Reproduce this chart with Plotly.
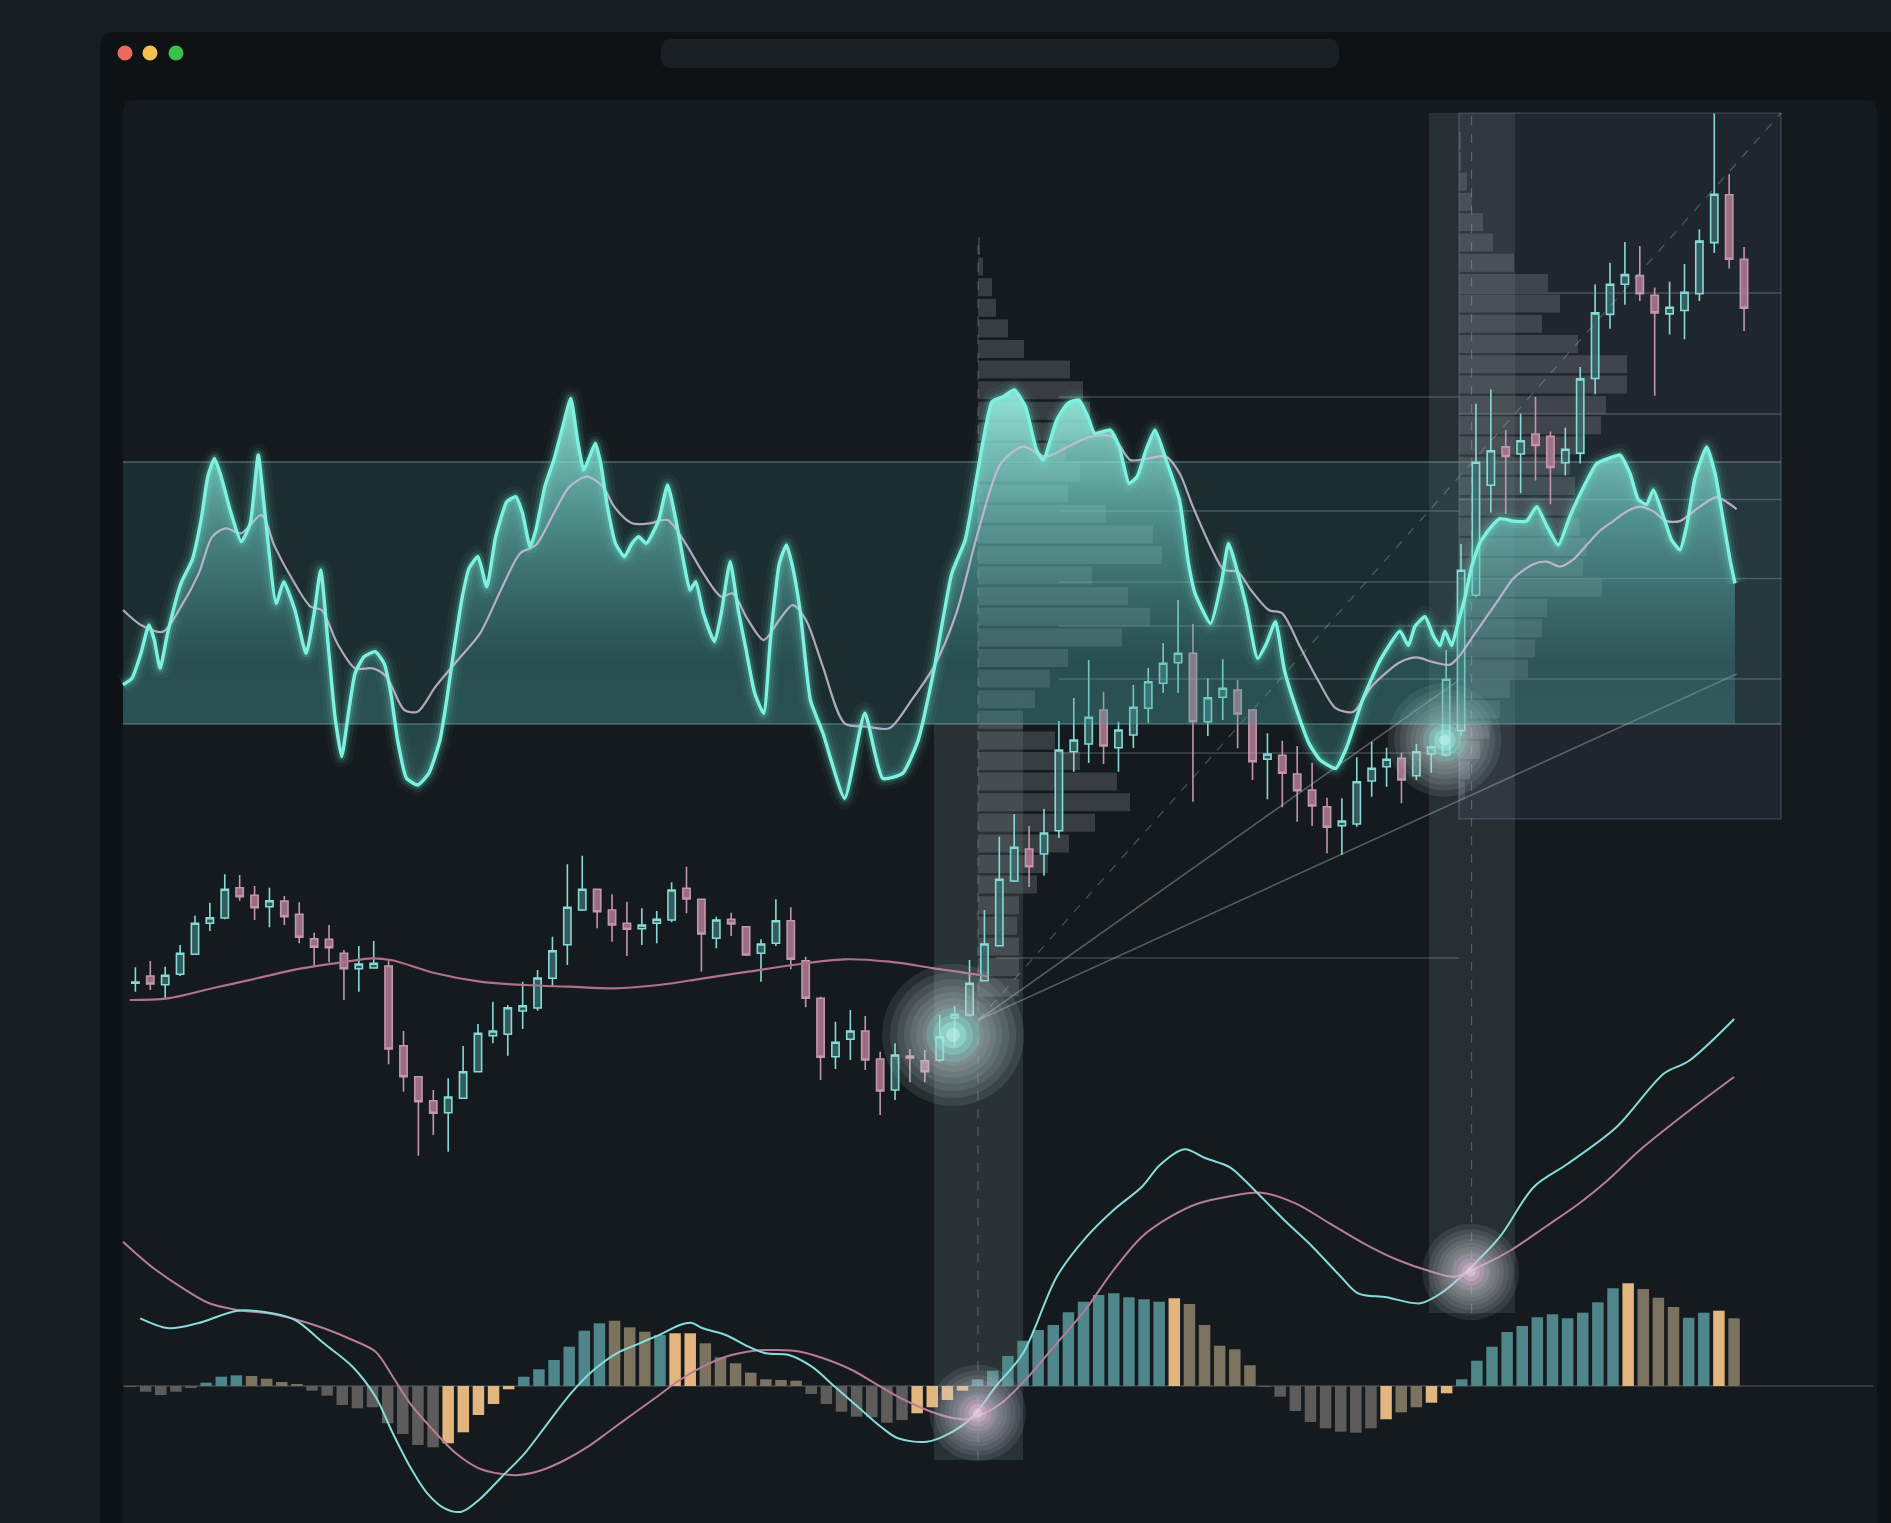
import plotly.graph_objects as go

W, H = 1891, 1523

# ---------------- DATA ----------------
# Candles (bar index 0..108), prices
candle_open = [101.67, 102.4, 101.53, 102.57, 104.57, 107.67, 108.2, 111.23, 110.47, 109.33,
               109.9, 108.57, 106.13, 106.07, 104.67, 103.13, 103.2, 103.4, 95.43, 92.33,
               89.93, 88.73, 90.17, 92.83, 96.43, 96.57, 98.9, 99.2, 102.17, 105.53,
               109.0, 111.07, 109.0, 107.67, 107.13, 107.67, 108.0, 111.17, 110.07, 106.17,
               108.07, 107.33, 104.67, 105.67, 107.93, 103.93, 100.17, 94.33, 96.07, 96.9,
               94.1, 91.0, 94.4, 93.93, 94.0, 98.23, 98.5, 101.93, 105.43, 111.9,
               115.1, 114.6, 116.93, 124.83, 125.6, 129.0, 125.23, 126.5, 129.17, 131.67,
               133.73, 134.67, 127.83, 130.27, 131.0, 129.0, 124.07, 124.47, 122.6, 121.0,
               119.33, 117.43, 117.6, 121.9, 123.33, 124.17, 122.43, 124.6, 124.5, 126.94,
               140.48, 151.48, 155.31, 154.6, 156.6, 156.36, 153.73, 154.69, 162.15, 168.56,
               171.58, 172.44, 170.48, 168.61, 168.95, 170.62, 175.74, 180.53, 174.07]
candle_high = [103.27, 103.9, 103.33, 105.5, 108.43, 109.73, 112.57, 112.5, 111.4, 111.23,
               110.4, 109.77, 106.73, 107.5, 105.0, 105.4, 105.9, 104.0, 96.9, 92.4,
               91.0, 92.17, 95.4, 97.6, 99.83, 99.5, 101.83, 103.0, 106.33, 113.57,
               114.43, 111.1, 110.57, 109.83, 109.17, 108.9, 111.77, 113.33, 110.1, 108.33,
               108.73, 107.4, 106.07, 110.07, 109.27, 104.33, 100.33, 97.83, 99.0, 98.4,
               94.83, 95.67, 95.1, 95.0, 98.5, 99.4, 104.0, 109.0, 116.33, 118.6,
               117.4, 119.1, 127.9, 130.2, 134.0, 130.83, 127.83, 131.5, 133.2, 135.7,
               140.0, 137.6, 132.17, 134.07, 132.0, 129.07, 126.67, 125.93, 125.4, 123.73,
               120.23, 120.17, 124.27, 125.83, 125.23, 124.73, 125.6, 125.43, 135.0, 145.6,
               159.62, 161.05, 157.0, 158.66, 160.33, 156.84, 157.22, 163.3, 171.58, 173.73,
               175.79, 175.41, 171.24, 171.82, 173.59, 177.08, 188.66, 182.58, 175.31]
candle_low = [100.83, 101.0, 100.07, 102.4, 104.5, 106.9, 108.07, 109.93, 108.0, 107.27,
              107.5, 105.67, 103.33, 103.77, 100.0, 100.83, 103.17, 93.57, 90.83, 84.43,
              86.5, 84.83, 90.1, 92.8, 95.67, 94.43, 97.1, 98.93, 101.33, 103.5,
              108.9, 107.17, 105.83, 104.4, 105.5, 105.67, 107.77, 108.67, 102.83, 105.17,
              106.4, 104.4, 101.83, 105.4, 103.07, 99.27, 92.0, 93.1, 94.0, 93.0,
              88.5, 90.0, 91.77, 91.77, 93.8, 95.33, 98.33, 101.9, 105.4, 111.8,
              111.3, 112.43, 116.2, 122.83, 123.7, 123.6, 122.83, 125.2, 127.73, 130.7,
              130.7, 119.83, 126.4, 128.0, 125.17, 122.0, 120.07, 119.27, 117.83, 117.4,
              114.67, 114.5, 117.33, 120.33, 121.33, 119.67, 122.0, 122.73, 124.33, 126.4,
              140.24, 148.76, 148.61, 150.67, 151.96, 149.57, 152.44, 153.64, 160.57, 167.13,
              169.52, 169.9, 160.43, 166.56, 166.08, 169.9, 174.69, 173.16, 166.89]
candle_close = [101.8, 101.6, 102.47, 104.67, 107.67, 108.23, 111.07, 110.33, 109.23, 109.93,
                108.33, 106.27, 105.27, 105.23, 103.13, 103.6, 103.67, 95.1, 92.33, 89.83,
                88.67, 90.3, 92.83, 96.67, 96.9, 99.23, 99.43, 102.2, 104.93, 109.27,
                111.07, 108.83, 107.5, 107.07, 107.5, 108.07, 111.0, 110.1, 106.6, 108.0,
                107.6, 104.5, 105.6, 107.93, 104.07, 100.17, 94.27, 95.77, 96.9, 94.0,
                90.9, 94.5, 94.2, 92.83, 96.33, 98.57, 101.67, 105.6, 112.07, 115.27,
                113.33, 116.7, 125.0, 126.0, 128.27, 125.4, 127.0, 129.27, 131.83, 133.67,
                134.67, 127.83, 130.23, 131.17, 128.6, 123.83, 124.6, 122.67, 120.93, 119.4,
                117.27, 117.9, 121.83, 123.17, 124.07, 122.0, 124.83, 125.33, 132.07, 142.97,
                153.78, 154.93, 154.35, 155.93, 155.45, 153.25, 155.07, 162.11, 168.71, 171.58,
                172.54, 170.62, 168.71, 169.28, 170.77, 175.89, 180.57, 174.07, 169.19]
candle_idx = list(range(len(candle_open)))

# Moving average over the price candles
ma_idx = [-0.38, 2.16, 5.16, 8.16, 11.16, 14.15, 15.86, 17.15, 20.15, 23.14, 26.14,
          29.14, 32.14, 35.13, 38.13, 41.13, 44.12, 47.61, 50.61, 53.61, 56.61, 57.21]
ma_val = [100.0, 100.17, 101.17, 102.17, 103.17, 103.83, 104.17, 104.0, 102.67, 101.83, 101.5,
          101.33, 101.17, 101.5, 102.17, 102.83, 103.5, 104.07, 103.83, 103.17, 102.5, 102.33]

# Oscillator (band = -1 .. +1)
osc_idx = [-0.83, -0.23, 0.37, 0.91, 1.27, 1.66, 2.16, 3.06, 3.81, 4.41, 4.86, 5.31, 5.76, 6.36,
           7.11, 7.71, 8.25, 8.70, 9.45, 9.96, 10.71, 11.46, 12.0, 12.44, 12.95, 13.40, 13.85,
           14.30, 14.75, 15.35, 16.10, 16.70, 17.15, 17.60, 18.20, 18.95, 19.70, 20.45, 20.90,
           21.35, 21.95, 22.40, 23.00, 23.59, 24.19, 24.94, 25.54, 25.99, 26.50, 26.89, 27.49,
           28.09, 28.69, 29.23, 29.68, 30.10, 30.49, 30.88, 31.24, 31.69, 32.23, 32.83, 33.34,
           33.79, 34.30, 35.13, 35.73, 36.33, 36.87, 37.23, 37.62, 38.13, 38.88, 39.33, 39.93,
           40.47, 40.98, 41.58, 42.18, 42.63, 43.23, 43.71, 44.12, 44.62, 45.32, 46.16, 47.62,
           48.97, 50.17, 51.51, 52.56, 53.61, 54.81, 55.71, 56.61, 57.51, 58.26, 59.01, 59.76,
           60.50, 60.95, 61.85, 62.60, 63.35, 63.95, 64.40, 65.45, 66.05, 66.71, 67.25, 67.85,
           68.45, 69.20, 70.10, 70.70, 71.14, 72.19, 72.94, 73.39, 74.14, 74.59, 75.34, 75.94,
           76.54, 77.14, 77.89, 78.79, 79.54, 80.59, 81.34, 82.38, 83.58, 84.90, 85.46, 85.91,
           86.58, 87.14, 87.59, 87.92, 88.37, 88.82, 89.26, 89.71, 90.27, 90.94, 91.61, 92.51,
           93.40, 94.08, 94.75, 95.53, 96.31, 97.21, 98.10, 99.00, 99.67, 100.34, 100.90,
           101.46, 101.91, 102.58, 103.14, 103.70, 104.15, 104.71, 105.49, 106.05, 106.61,
           107.05, 107.39]
osc_val = [-0.70, -0.651, -0.461, -0.244, -0.359, -0.575, -0.308, 0.074, 0.252, 0.557, 0.888,
           1.028, 0.888, 0.634, 0.392, 0.532, 1.053, 0.608, -0.079, 0.087, -0.130, -0.461,
           -0.155, 0.176, -0.410, -0.944, -1.249, -0.918, -0.613, -0.486, -0.448, -0.537,
           -0.766, -1.122, -1.415, -1.466, -1.377, -1.122, -0.817, -0.461, -0.028, 0.188,
           0.277, 0.048, 0.430, 0.697, 0.735, 0.608, 0.354, 0.481, 0.812, 1.015, 1.270, 1.486,
           1.168, 0.939, 1.041, 1.143, 0.990, 0.659, 0.379, 0.277, 0.379, 0.430, 0.379, 0.557,
           0.824, 0.532, 0.201, 0.023, 0.087, -0.155, -0.371, -0.155, 0.239, -0.130, -0.422,
           -0.766, -0.918, -0.359, 0.226, 0.366, 0.201, -0.130, -0.817, -1.071, -1.567,
           -0.918, -1.415, -1.377, -1.122, -0.588, 0.150, 0.405, 0.964, 1.461, 1.499, 1.550,
           1.422, 1.092, 1.015, 1.321, 1.448, 1.473, 1.346, 1.219, 1.244, 1.117, 0.837, 0.888,
           1.092, 1.244, 1.015, 0.710, 0.226, -0.003, -0.232, 0.099, 0.379, 0.099, -0.104,
           -0.499, -0.384, -0.219, -0.588, -0.868, -1.148, -1.275, -1.338, -1.173, -0.817,
           -0.511, -0.291, -0.401, -0.254, -0.181, -0.327, -0.401, -0.291, -0.401, -0.218,
           -0.035, 0.202, 0.385, 0.494, 0.567, 0.549, 0.549, 0.659, 0.513, 0.366, 0.586,
           0.805, 0.987, 1.031, 1.053, 0.914, 0.713, 0.677, 0.786, 0.586, 0.403, 0.330, 0.513,
           0.878, 1.115, 0.914, 0.549, 0.257, 0.074]

osc_ma_idx = [-0.83, 0.37, 1.86, 3.06, 4.26, 5.16, 6.06, 7.11, 8.46, 9.36, 10.56, 11.76, 12.50,
              13.55, 14.75, 15.95, 16.85, 18.05, 18.95, 20.15, 21.65, 23.14, 24.64, 25.84,
              26.89, 28.09, 29.14, 30.34, 31.39, 32.14, 33.34, 34.54, 35.73, 36.93, 38.13,
              39.33, 40.08, 41.13, 42.18, 43.23, 44.12, 45.02, 46.12, 47.62, 49.12, 50.61,
              52.11, 53.61, 55.11, 56.61, 58.11, 59.61, 61.10, 62.60, 64.10, 65.60, 66.80,
              68.0, 69.20, 70.10, 71.0, 72.19, 73.09, 73.99, 74.89, 76.09, 76.99, 78.19, 79.39,
              80.59, 81.78, 82.98, 84.18, 84.90, 86.02, 87.14, 88.26, 88.93, 89.82, 90.72,
              91.61, 92.51, 93.85, 94.75, 95.64, 96.54, 97.43, 98.33, 99.22, 100.12, 101.01,
              101.91, 102.80, 103.70, 104.59, 105.49, 106.16, 106.83, 107.50]
osc_ma_val = [-0.130, -0.244, -0.295, -0.104, 0.150, 0.430, 0.494, 0.456, 0.595, 0.354, 0.099,
              -0.104, -0.130, -0.384, -0.575, -0.575, -0.639, -0.893, -0.906, -0.715, -0.511,
              -0.308, 0.048, 0.303, 0.366, 0.608, 0.812, 0.888, 0.812, 0.659, 0.532, 0.532,
              0.557, 0.379, 0.150, -0.028, -0.003, -0.206, -0.359, -0.206, -0.092, -0.206,
              -0.55, -0.995, -1.020, -1.033, -0.817, -0.562, -0.155, 0.481, 0.990, 1.117,
              1.041, 1.117, 1.193, 1.193, 1.015, 1.028, 1.041, 0.914, 0.659, 0.354, 0.176,
              0.163, 0.023, -0.130, -0.155, -0.410, -0.664, -0.880, -0.906, -0.715, -0.588,
              -0.528, -0.492, -0.528, -0.547, -0.474, -0.327, -0.181, -0.035, 0.111, 0.220,
              0.239, 0.202, 0.257, 0.366, 0.476, 0.549, 0.622, 0.659, 0.622, 0.549, 0.549,
              0.622, 0.695, 0.732, 0.695, 0.641]

# Volume profiles (price bins and volumes)
profile1_price = [175.4, 173.34, 171.28, 169.22, 167.16, 165.1, 163.04, 160.98, 158.92, 156.86,
                  154.8, 152.74, 150.68, 148.62, 146.56, 144.5, 142.44, 140.38, 138.32, 136.26,
                  134.2, 132.14, 130.08, 128.02, 125.96, 123.9, 121.84, 119.78, 117.72, 115.66,
                  113.6, 111.54, 109.48, 107.42, 105.36, 103.3, 101.24]
profile1_vol = [2, 5, 14, 18, 30, 46, 92, 105, 112, 112, 88, 102, 90, 128, 175, 184, 114, 150,
                172, 144, 90, 72, 57, 45, 77, 102, 139, 152, 117, 91, 70, 59, 41, 39, 41, 41, 41]
profile2_price = [185.9, 183.87, 181.84, 179.81, 177.78, 175.75, 173.72, 171.69, 169.66, 167.63,
                  165.6, 163.57, 161.54, 159.51, 157.48, 155.45, 153.42, 151.39, 149.36, 147.33,
                  145.3, 143.27, 141.24, 139.21, 137.18, 135.15, 133.12, 131.09, 129.06, 127.03,
                  125.0, 122.97, 120.94]
profile2_vol = [2, 2, 8, 13, 24, 34, 55, 89, 101, 83, 119, 168, 168, 147, 142, 126, 111, 116, 114,
                121, 128, 124, 143, 88, 83, 76, 69, 51, 41, 31, 21, 11, 6]

# Price levels
levels_mid = [160.3, 148.9, 141.8, 137.4, 132.1, 124.7]
levels_box = [170.7, 158.6, 150.05, 142.15, 132.1]
level_low = [104.2]

# MACD histogram (per bar) and category (t teal, b tan, o orange, g grey)
macd_hist = [-0.005, -0.057, -0.09, -0.057, -0.02, 0.033, 0.093, 0.107, 0.10, 0.073, 0.04, 0.017,
             -0.047, -0.097, -0.19, -0.223, -0.213, -0.373, -0.48, -0.59, -0.613, -0.573,
             -0.463, -0.29, -0.18, -0.033, 0.093, 0.167, 0.26, 0.393, 0.553, 0.627, 0.653,
             0.587, 0.543, 0.51, 0.527, 0.527, 0.427, 0.287, 0.227, 0.133, 0.067, 0.06, 0.053,
             -0.08, -0.18, -0.257, -0.307, -0.313, -0.367, -0.34, -0.273, -0.213, -0.14, -0.047,
             0.067, 0.153, 0.30, 0.453, 0.56, 0.61, 0.737, 0.843, 0.91, 0.927, 0.887, 0.867,
             0.843, 0.877, 0.82, 0.61, 0.403, 0.367, 0.207, -0.01, -0.107, -0.25, -0.36,
             -0.423, -0.457, -0.467, -0.423, -0.333, -0.263, -0.213, -0.167, -0.073, 0.067,
             0.253, 0.393, 0.54, 0.6, 0.687, 0.717, 0.677, 0.733, 0.837, 0.977, 1.027, 0.97,
             0.883, 0.79, 0.683, 0.733, 0.753, 0.677]
macd_cat = ("ggggg" "ttt" "bbbb" "ggggggggg" "ooooo" "tttttt" "bbb" "t" "oo" "bbbbbbb"
            "ggggggg" "oooo" "ttttttttttttt" "o" "bbbbb" "gggggggg" "o" "bb" "oo"
            "ttttttttttt" "o" "bbb" "tt" "o" "b")
macd_idx = list(range(len(macd_hist)))

macd_line_idx = [0.64, 2.54, 4.44, 7.09, 9.37, 10.89, 12.78, 14.68, 16.2, 17.34, 18.48, 19.62,
                 20.76, 21.89, 23.03, 24.55, 26.06, 27.58, 29.11, 30.62, 32.14, 33.65, 35.17,
                 36.31, 37.07, 37.83, 39.35, 40.86, 42.01, 43.52, 45.04, 46.56, 48.08, 49.6,
                 50.73, 52.63, 54.14, 55.67, 57.19, 59.0, 61.23, 63.11, 64.99, 66.86, 68.05,
                 69.66, 71.03, 72.68, 73.63, 76.26, 78.13, 80.01, 81.14, 83.02, 85.27, 86.77,
                 88.65, 90.53, 92.78, 95.01, 98.2, 101.39, 102.98, 106.01]
macd_line_val = [0.677, 0.577, 0.627, 0.753, 0.727, 0.66, 0.427, 0.193, -0.107, -0.473, -0.807,
                 -1.073, -1.223, -1.257, -1.14, -0.907, -0.673, -0.373, -0.073, 0.16, 0.327,
                 0.427, 0.527, 0.61, 0.633, 0.577, 0.51, 0.393, 0.327, 0.31, 0.193, -0.007,
                 -0.207, -0.407, -0.523, -0.557, -0.473, -0.307, -0.007, 0.327, 1.093, 1.477,
                 1.76, 1.993, 2.21, 2.367, 2.28, 2.186, 2.06, 1.66, 1.393, 1.093, 0.927, 0.887,
                 0.827, 0.943, 1.193, 1.493, 1.993, 2.222, 2.584, 3.127, 3.247, 3.67]
signal_idx = [-0.5, 1.4, 3.3, 5.2, 7.09, 9.37, 10.89, 12.78, 14.68, 16.2, 17.34, 18.48, 20.0,
              21.51, 23.03, 24.55, 25.69, 27.21, 28.72, 30.24, 31.76, 33.28, 34.8, 36.31, 37.83,
              39.35, 41.25, 42.76, 44.28, 45.8, 47.69, 49.21, 50.73, 52.63, 54.14, 55.29, 56.43,
              57.56, 59.35, 61.23, 63.11, 64.99, 66.86, 68.75, 70.62, 72.5, 74.76, 77.01, 79.26,
              81.51, 83.77, 86.02, 87.52, 89.4, 91.28, 93.54, 95.78, 97.67, 99.78, 103.09, 106.0]
signal_val = [1.443, 1.193, 0.993, 0.827, 0.76, 0.72, 0.667, 0.577, 0.46, 0.343, 0.093, -0.173,
              -0.44, -0.673, -0.823, -0.88, -0.89, -0.84, -0.74, -0.607, -0.44, -0.273, -0.107,
              0.06, 0.193, 0.293, 0.353, 0.36, 0.343, 0.277, 0.16, 0.027, -0.107, -0.24, -0.313,
              -0.333, -0.273, -0.173, 0.093, 0.427, 0.76, 1.16, 1.493, 1.693, 1.827, 1.893,
              1.933, 1.827, 1.627, 1.427, 1.26, 1.143, 1.093, 1.21, 1.36, 1.593, 1.827, 2.06,
              2.36, 2.76, 3.09]

# Highlight points
glow_idx = [54.9, 87.9]
glow_price = [96.5, 126.0]
macd_glow_idx = [56.0, 88.6]
macd_glow_val = [-0.27, 1.14]

# Fan lines from the breakout point
fan_origin = (56.6, 98.0)
fan_solid_idx = [107.5, 88.86]
fan_solid_price = [132.6, 132.0]
fan_dash_end = (110.48, 188.7)

# ---------------- STYLE ----------------
BG_PAGE = "#161c1f"
BG_WINDOW = "#0e1215"
BG_PANEL = "#141a1d"
CYAN = "#7ef2df"
LAV = "rgba(205,188,218,0.85)"
UP_LINE, UP_FILL = "#86dbd4", "rgba(62,112,114,0.75)"
DN_LINE, DN_FILL = "#c396aa", "rgba(168,120,142,0.9)"
CAT_COLORS = {"t": "#4e8689", "b": "#7b735f", "o": "#e2b67e", "g": "#5e5c5a"}


def px(x):
    return x / W


def py(y):
    return 1 - y / H


def rrect(x0, y0, x1, y1, r):
    return (f"M {px(x0 + r)},{py(y0)} L {px(x1 - r)},{py(y0)} "
            f"Q {px(x1)},{py(y0)} {px(x1)},{py(y0 + r)} L {px(x1)},{py(y1 - r)} "
            f"Q {px(x1)},{py(y1)} {px(x1 - r)},{py(y1)} L {px(x0 + r)},{py(y1)} "
            f"Q {px(x0)},{py(y1)} {px(x0)},{py(y1 - r)} L {px(x0)},{py(y0 + r)} "
            f"Q {px(x0)},{py(y0)} {px(x0 + r)},{py(y0)} Z")


shapes = []
# window chrome
shapes.append(dict(type="path", path=rrect(100, 32, 1960, 1620, 16), xref="paper", yref="paper",
                   fillcolor=BG_WINDOW, line_width=0, layer="below"))
shapes.append(dict(type="path", path=rrect(123, 100, 1877, 1620, 12), xref="paper", yref="paper",
                   fillcolor=BG_PANEL, line_width=0, layer="below"))
shapes.append(dict(type="path", path=rrect(661, 39, 1339, 68, 10), xref="paper", yref="paper",
                   fillcolor="#1a1f23", line_width=0, layer="below"))
for cx, col in [(125, "#ec6a5c"), (150, "#f3bf4f"), (176, "#3cbf4b")]:
    shapes.append(dict(type="circle", xref="paper", yref="paper", xsizemode="pixel",
                       ysizemode="pixel", xanchor=px(cx), yanchor=py(53), x0=-7.5, x1=7.5,
                       y0=-7.5, y1=7.5, fillcolor=col, line_width=0, layer="below"))

# right box
shapes.append(dict(type="rect", xref="x", yref="y", x0=88.86, x1=110.48, y0=118.1, y1=188.7,
                   fillcolor="rgba(58,64,80,0.33)", line=dict(color="rgba(150,160,170,0.35)", width=1.2),
                   layer="below"))
# highlight columns
shapes.append(dict(type="rect", xref="x", yref="y", x0=53.61, x1=59.59, y0=54.0, y1=127.7,
                   fillcolor="rgba(150,180,180,0.17)", line_width=0, layer="below"))
shapes.append(dict(type="rect", xref="x", yref="y", x0=86.85, x1=92.62, y0=68.7, y1=188.7,
                   fillcolor="rgba(150,180,180,0.14)", line_width=0, layer="below"))
# oscillator band
shapes.append(dict(type="rect", xref="x", yref="y2", x0=-0.83, x1=110.48, y0=-1, y1=1,
                   fillcolor="rgba(70,140,145,0.17)", line_width=0, layer="below"))
for yb in (-1, 1):
    shapes.append(dict(type="line", xref="x", yref="y2", x0=-0.83, x1=110.48, y0=yb, y1=yb,
                       line=dict(color="rgba(130,180,185,0.45)", width=1.5), layer="below"))
# dashed verticals
shapes.append(dict(type="line", xref="x", yref="y", x0=56.57, x1=56.57, y0=54.0, y1=176.4,
                   line=dict(color="rgba(190,200,200,0.35)", width=1, dash="dash")))
shapes.append(dict(type="line", xref="x", yref="y", x0=89.71, x1=89.71, y0=68.7, y1=188.7,
                   line=dict(color="rgba(190,200,200,0.35)", width=1, dash="dash")))
# MACD zero line
shapes.append(dict(type="line", xref="x2", yref="y3", x0=-0.5, x1=115.2, y0=0, y1=0,
                   line=dict(color="rgba(110,115,118,0.5)", width=1.5), layer="below"))

fig = go.Figure()

# ---- volume profiles ----
BARS_PER_VOL = 1 / 14.895
fig.add_trace(go.Bar(orientation="h", y=profile1_price, x=[v * BARS_PER_VOL for v in profile1_vol],
                     base=56.57, width=1.8, marker=dict(color="rgba(118,124,130,0.36)", line_width=0),
                     hoverinfo="skip", showlegend=False))
fig.add_trace(go.Bar(orientation="h", y=profile2_price, x=[v * BARS_PER_VOL for v in profile2_vol],
                     base=88.86, width=1.8, marker=dict(color="rgba(118,124,130,0.36)", line_width=0),
                     hoverinfo="skip", showlegend=False))

# ---- level lines ----
lx, ly = [], []
for p in levels_mid:
    lx += [62.0, 88.86, None]
    ly += [p, p, None]
for p in levels_box:
    lx += [88.86, 110.48, None]
    ly += [p, p, None]
for p in level_low:
    lx += [57.8, 88.86, None]
    ly += [p, p, None]
fig.add_trace(go.Scatter(x=lx, y=ly, mode="lines", line=dict(color="rgba(170,180,185,0.3)", width=1.5),
                         hoverinfo="skip", showlegend=False))

# ---- oscillator ----
fig.add_trace(go.Scatter(x=[osc_idx[0], osc_idx[-1]], y=[-1, -1], yaxis="y2", mode="lines",
                         line=dict(width=0, color="rgba(0,0,0,0)"), hoverinfo="skip", showlegend=False))
fig.add_trace(go.Scatter(x=osc_idx, y=osc_val, yaxis="y2", mode="lines", fill="tonexty",
                         line=dict(width=0, color="rgba(0,0,0,0)", shape="spline", smoothing=0.5),
                         fillgradient=dict(type="vertical", start=-1.6, stop=1.45,
                                           colorscale=[[0, "rgba(75,165,160,0.36)"],
                                                       [0.35, "rgba(70,155,152,0.30)"],
                                                       [0.7, "rgba(110,205,195,0.58)"],
                                                       [1, "rgba(155,242,228,0.88)"]]),
                         hoverinfo="skip", showlegend=False))
for w, a in [(22, 0.045), (14, 0.085), (8, 0.17)]:
    fig.add_trace(go.Scatter(x=osc_idx, y=osc_val, yaxis="y2", mode="lines",
                             line=dict(width=w, color=f"rgba(110,240,220,{a})", shape="spline",
                                       smoothing=0.5),
                             hoverinfo="skip", showlegend=False))
fig.add_trace(go.Scatter(x=osc_ma_idx, y=osc_ma_val, yaxis="y2", mode="lines",
                         line=dict(width=2.2, color=LAV, shape="spline", smoothing=0.8),
                         hoverinfo="skip", showlegend=False))
fig.add_trace(go.Scatter(x=osc_idx, y=osc_val, yaxis="y2", mode="lines",
                         line=dict(width=3.4, color=CYAN, shape="spline", smoothing=0.5),
                         hoverinfo="skip", showlegend=False))

# ---- fan lines ----
fx, fy = [], []
for xi, yi in zip(fan_solid_idx, fan_solid_price):
    fx += [fan_origin[0], xi, None]
    fy += [fan_origin[1], yi, None]
fig.add_trace(go.Scatter(x=fx, y=fy, mode="lines", line=dict(color="rgba(170,185,190,0.42)", width=1.6),
                         hoverinfo="skip", showlegend=False))
fig.add_trace(go.Scatter(x=[fan_origin[0], fan_dash_end[0]], y=[fan_origin[1], fan_dash_end[1]],
                         mode="lines", line=dict(color="rgba(170,185,190,0.35)", width=1.2, dash="dash"),
                         hoverinfo="skip", showlegend=False))

# ---- candles ----
fig.add_trace(go.Candlestick(x=candle_idx, open=candle_open, high=candle_high, low=candle_low,
                             close=candle_close, whiskerwidth=0,
                             increasing=dict(line=dict(color=UP_LINE, width=1.6), fillcolor=UP_FILL),
                             decreasing=dict(line=dict(color=DN_LINE, width=1.6), fillcolor=DN_FILL),
                             hoverinfo="skip", showlegend=False))
fig.add_trace(go.Scatter(x=ma_idx, y=ma_val, mode="lines",
                         line=dict(color="#b07189", width=2.2, shape="spline", smoothing=1.0),
                         hoverinfo="skip", showlegend=False))

# ---- MACD ----
fig.add_trace(go.Bar(x=macd_idx, y=macd_hist, xaxis="x2", yaxis="y3", width=0.76,
                     marker=dict(color=[CAT_COLORS[c] for c in macd_cat], line_width=0),
                     hoverinfo="skip", showlegend=False))
fig.add_trace(go.Scatter(x=signal_idx, y=signal_val, xaxis="x2", yaxis="y3", mode="lines",
                         line=dict(color="#b67c98", width=2, shape="spline", smoothing=0.9),
                         hoverinfo="skip", showlegend=False))
fig.add_trace(go.Scatter(x=macd_line_idx, y=macd_line_val, xaxis="x2", yaxis="y3", mode="lines",
                         line=dict(color="#86dcd9", width=2, shape="spline", smoothing=0.9),
                         hoverinfo="skip", showlegend=False))


# ---- glows ----
def add_glow(xs, ys, xaxis, yaxis, scale, ring_color, core):
    rings = [142, 126, 112, 98, 86, 74, 62]
    for s in rings:
        fig.add_trace(go.Scatter(x=xs, y=ys, xaxis=xaxis, yaxis=yaxis, mode="markers",
                                 marker=dict(size=[s * k for k in scale], color=ring_color,
                                             line_width=0),
                                 hoverinfo="skip", showlegend=False))
    for s, c in [(54, core[0]), (40, core[1]), (27, core[2]), (14, core[3])]:
        fig.add_trace(go.Scatter(x=xs, y=ys, xaxis=xaxis, yaxis=yaxis, mode="markers",
                                 marker=dict(size=[s * k for k in scale], color=c, line_width=0),
                                 hoverinfo="skip", showlegend=False))


add_glow(glow_idx, glow_price, "x", "y", [1.0, 0.8], "rgba(190,212,212,0.16)",
         ["rgba(120,230,215,0.32)", "rgba(140,245,230,0.40)", "rgba(170,255,240,0.48)",
          "rgba(215,255,250,0.55)"])
add_glow(macd_glow_idx, macd_glow_val, "x2", "y3", [0.68, 0.68], "rgba(210,205,215,0.15)",
         ["rgba(215,170,205,0.32)", "rgba(225,180,212,0.40)", "rgba(238,195,225,0.48)",
          "rgba(250,225,242,0.55)"])

fig.update_layout(
    width=W, height=H, margin=dict(l=0, r=0, t=0, b=0),
    paper_bgcolor=BG_PAGE, plot_bgcolor="rgba(0,0,0,0)",
    barmode="overlay", showlegend=False, shapes=shapes,
    xaxis=dict(range=[-9.090, 117.865], domain=[0, 1], visible=False, fixedrange=True,
               rangeslider=dict(visible=False)),
    yaxis=dict(range=[47.7, 200.0], domain=[0, 1], visible=False, fixedrange=True),
    yaxis2=dict(range=[-7.0992, 4.5267], overlaying="y", visible=False, fixedrange=True),
    xaxis2=dict(range=[-8.626, 116.376], overlaying="x", visible=False, fixedrange=True),
    yaxis3=dict(range=[-1.37, 13.86], overlaying="y", visible=False, fixedrange=True),
)

fig.write_html("out.html", config={"displayModeBar": False})
